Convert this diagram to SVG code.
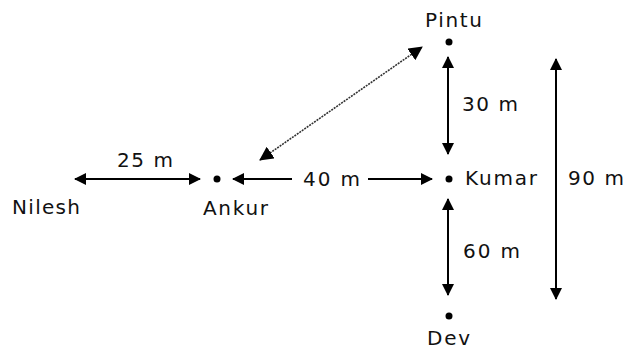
<svg xmlns="http://www.w3.org/2000/svg" width="628" height="351" viewBox="0 0 628 351">
<defs>
<marker id="ah" viewBox="0 0 12 12" refX="11" refY="6" markerWidth="12" markerHeight="12" markerUnits="userSpaceOnUse" orient="auto-start-reverse">
<path d="M0,0 L12,6 L0,12 Z" fill="#000"/>
</marker>
<marker id="ahd" viewBox="0 0 14 14" refX="13" refY="7" markerWidth="14" markerHeight="14" markerUnits="userSpaceOnUse" orient="auto-start-reverse">
<path d="M0,0 L14,7 L0,14 Z" fill="#000"/>
</marker>
<style>
text{font-family:"DejaVu Sans","Verdana",sans-serif;font-size:20px;fill:#111}
.ln{stroke:#000;stroke-width:2;fill:none}
.dot{fill:#000}
</style>
</defs>
<rect width="628" height="351" fill="#fff"/>
<g id="connectors">
<line class="ln" x1="75" y1="179" x2="200" y2="179" marker-start="url(#ah)" marker-end="url(#ah)"/>
<line class="ln" x1="233" y1="179" x2="292" y2="179" marker-start="url(#ah)"/>
<line class="ln" x1="368" y1="179" x2="432" y2="179" marker-end="url(#ah)"/>
<line class="ln" x1="448" y1="57" x2="448" y2="154" marker-start="url(#ah)" marker-end="url(#ah)"/>
<line class="ln" x1="448" y1="199" x2="448" y2="295" marker-start="url(#ah)" marker-end="url(#ah)"/>
<line class="ln" x1="556" y1="59" x2="556" y2="299" stroke="#222" marker-start="url(#ah)" marker-end="url(#ah)"/>
<line x1="260" y1="160" x2="422" y2="47" stroke="#333" stroke-width="1.6" stroke-dasharray="2 1" marker-start="url(#ahd)" marker-end="url(#ahd)"/>
</g>
<g id="nilesh"><text x="12" y="214" textLength="68" lengthAdjust="spacing">Nilesh</text></g>
<g id="ankur"><circle class="dot" cx="217" cy="179" r="3.5"/><text x="203" y="215" textLength="65" lengthAdjust="spacing">Ankur</text></g>
<g id="kumar"><circle class="dot" cx="449" cy="179" r="3.5"/><text x="465" y="185" textLength="72" lengthAdjust="spacing">Kumar</text></g>
<g id="pintu"><circle class="dot" cx="449" cy="42" r="3.5"/><text x="425" y="27" textLength="57" lengthAdjust="spacing">Pintu</text></g>
<g id="dev"><circle class="dot" cx="449" cy="316" r="3.5"/><text x="427" y="345" textLength="43" lengthAdjust="spacing">Dev</text></g>
<g id="labels">
<text x="117" y="167" textLength="56" lengthAdjust="spacing">25 m</text>
<text x="303" y="186" textLength="57" lengthAdjust="spacing">40 m</text>
<text x="462" y="111" textLength="56" lengthAdjust="spacing">30 m</text>
<text x="463" y="258" textLength="57" lengthAdjust="spacing">60 m</text>
<text x="568" y="185" textLength="56" lengthAdjust="spacing">90 m</text>
</g>
</svg>
